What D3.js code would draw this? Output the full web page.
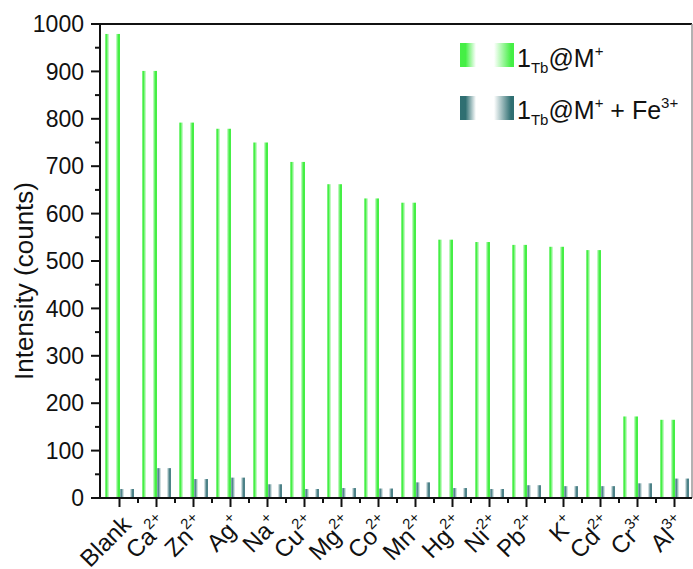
<!DOCTYPE html>
<html>
<head>
<meta charset="utf-8">
<script src="https://cdn.jsdelivr.net/npm/d3@7/dist/d3.min.js"></script>
<style>
  html, body { margin: 0; padding: 0; background: #fff; }
  svg { display: block; font-family: "Liberation Sans", Arial, sans-serif; }
</style>
</head>
<body>
<svg id="chart" width="693" height="569"></svg>
<script>
// Ion names and their charges (superscripts)
const ions = ["Blank", "Ca", "Zn", "Ag", "Na", "Cu", "Mg", "Co", "Mn", "Hg", "Ni", "Pb", "K", "Cd", "Cr", "Al"];
const charges = ["", "2+", "2+", "+", "+", "2+", "2+", "2+", "2+", "2+", "2+", "2+", "+", "2+", "3+", "3+"];
// Luminescence intensity of 1Tb@M+ alone
const intensityM = [979, 901, 792, 779, 750, 709, 662, 632, 623, 545, 540, 534, 530, 523, 172, 165];
// Luminescence intensity after adding Fe3+
const intensityFe = [19, 63, 40, 43, 29, 19, 21, 20, 33, 21, 19, 27, 25, 25, 31, 41];
const yTicks = [0, 100, 200, 300, 400, 500, 600, 700, 800, 900, 1000];

const svg = d3.select("#chart");
const mLeft = 100, mRight = 692, mTop = 24, mBottom = 498;

const x = d3.scaleBand().domain(ions).range([mLeft + 1, mRight + 1]).padding(0);
const y = d3.scaleLinear().domain([0, 1000]).range([mBottom, mTop]);

const green = "#45ef45";
const teal = "#4d8288";

// Horizontal gradients: thin coloured edges, white centre
const defs = svg.append("defs");
function barGradient(id, color) {
  const g = defs.append("linearGradient").attr("id", id)
    .attr("x1", "0%").attr("x2", "100%").attr("y1", "0%").attr("y2", "0%");
  [[0, color, 0.55], [0.1, color, 1], [0.3, "#ffffff", 1], [0.7, "#ffffff", 1], [0.88, color, 1], [1, color, 1]]
    .forEach(([o, c, op]) => g.append("stop").attr("offset", o).attr("stop-color", c).attr("stop-opacity", op));
}
barGradient("gGreen", green);
barGradient("gTeal", teal);
function fadeGradient(id, color, reverse) {
  const g = defs.append("linearGradient").attr("id", id)
    .attr("x1", "0%").attr("x2", "100%").attr("y1", "0%").attr("y2", "0%");
  const stops = reverse ? [[0, "#ffffff"], [0.85, color], [1, color]] : [[0, color], [0.35, color], [1, "#ffffff"]];
  stops.forEach(([o, c]) => g.append("stop").attr("offset", o).attr("stop-color", c));
}
fadeGradient("lGreenA", green, false);
fadeGradient("lGreenB", green, true);
fadeGradient("lTealA", "#2f6f72", false);
fadeGradient("lTealB", "#2f6f72", true);

const barW = 15;

// Bars
svg.append("g").selectAll("rect").data(ions).join("rect")
  .attr("x", d => x(d) + x.bandwidth() / 2 - barW + 0.5)
  .attr("width", barW)
  .attr("y", (d, i) => y(intensityM[i]))
  .attr("height", (d, i) => y(0) - y(intensityM[i]))
  .attr("fill", "url(#gGreen)");

svg.append("g").selectAll("rect").data(ions).join("rect")
  .attr("x", d => x(d) + x.bandwidth() / 2 + 0.5)
  .attr("width", barW - 1)
  .attr("y", (d, i) => y(intensityFe[i]))
  .attr("height", (d, i) => y(0) - y(intensityFe[i]))
  .attr("fill", "url(#gTeal)");

// Frame top and right
svg.append("line").attr("x1", mLeft).attr("x2", mRight).attr("y1", mTop).attr("y2", mTop)
  .attr("stroke", "#111").attr("stroke-width", 2);
svg.append("line").attr("x1", mRight).attr("x2", mRight).attr("y1", mTop).attr("y2", mBottom)
  .attr("stroke", "#999").attr("stroke-width", 1.5);

// Y axis
const yAxis = svg.append("g").attr("transform", `translate(${mLeft},0)`);
yAxis.append("line").attr("x1", 0).attr("x2", 0).attr("y1", mTop - 1).attr("y2", mBottom + 1)
  .attr("stroke", "#111").attr("stroke-width", 2);
yAxis.selectAll(".maj").data(yTicks).join("line").attr("class", "maj")
  .attr("x1", -9).attr("x2", 0).attr("y1", d => y(d)).attr("y2", d => y(d))
  .attr("stroke", "#111").attr("stroke-width", 2);
yAxis.selectAll(".min").data(yTicks.slice(0, -1).map(d => d + 50)).join("line").attr("class", "min")
  .attr("x1", -5).attr("x2", 0).attr("y1", d => y(d)).attr("y2", d => y(d))
  .attr("stroke", "#111").attr("stroke-width", 2);
yAxis.selectAll("text").data(yTicks).join("text")
  .attr("x", -16).attr("y", d => y(d)).attr("dy", "0.36em")
  .attr("text-anchor", "end").attr("font-size", 23).attr("fill", "#111")
  .text(d => d);

// X axis
const xAxis = svg.append("g").attr("transform", `translate(0,${mBottom})`);
xAxis.append("line").attr("x1", mLeft - 1).attr("x2", mRight).attr("y1", 0).attr("y2", 0)
  .attr("stroke", "#111").attr("stroke-width", 2);
xAxis.selectAll(".maj").data(ions).join("line").attr("class", "maj")
  .attr("x1", d => x(d) + x.bandwidth() / 2).attr("x2", d => x(d) + x.bandwidth() / 2)
  .attr("y1", 0).attr("y2", 9).attr("stroke", "#111").attr("stroke-width", 2);
xAxis.selectAll(".min").data(ions.slice(1)).join("line").attr("class", "min")
  .attr("x1", d => x(d)).attr("x2", d => x(d))
  .attr("y1", 0).attr("y2", 5).attr("stroke", "#111").attr("stroke-width", 2);

const xl = xAxis.selectAll("text").data(ions).join("text")
  .attr("text-anchor", "end").attr("font-size", 24).attr("fill", "#111")
  .attr("transform", d => `translate(${x(d) + x.bandwidth() / 2 + 13},${28}) rotate(-45)`);
xl.append("tspan").text(d => d);
xl.append("tspan").attr("font-size", 15).attr("dy", -11).text((d, i) => charges[i]);

// Y axis title
svg.append("text").attr("transform", "translate(33,281) rotate(-90)")
  .attr("text-anchor", "middle").attr("font-size", 26).attr("fill", "#111")
  .text("Intensity (counts)");

// Legend
const lg = svg.append("g");
const rows = [
  { y: 43, a: "url(#lGreenA)", b: "url(#lGreenB)" },
  { y: 96, a: "url(#lTealA)", b: "url(#lTealB)" }
];
rows.forEach(r => {
  lg.append("rect").attr("x", 460).attr("y", r.y).attr("width", 16).attr("height", 24).attr("fill", r.a);
  lg.append("rect").attr("x", 494).attr("y", r.y).attr("width", 20).attr("height", 24).attr("fill", r.b);
});
function legendText(yBase, withFe) {
  const t = lg.append("text").attr("x", 517).attr("y", yBase).attr("font-size", 25).attr("fill", "#111");
  t.append("tspan").text("1");
  t.append("tspan").attr("font-size", 15).attr("dy", 6).text("Tb");
  t.append("tspan").attr("dy", -6).text("@M");
  t.append("tspan").attr("font-size", 15).attr("dy", -11).text("+");
  if (withFe) {
    t.append("tspan").attr("dy", 11).text(" + Fe");
    t.append("tspan").attr("font-size", 15).attr("dy", -11).text("3+");
  }
}
legendText(67, false);
legendText(119, true);
</script>
</body>
</html>
